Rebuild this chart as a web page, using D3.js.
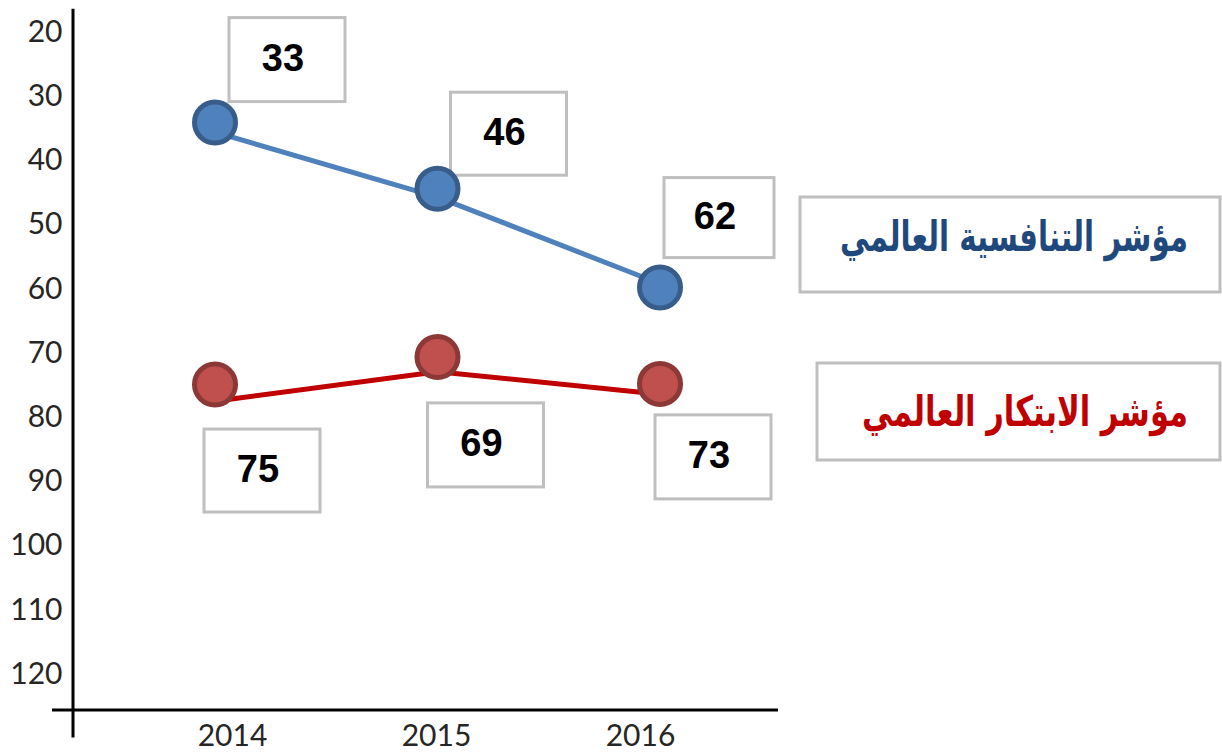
<!DOCTYPE html>
<html>
<head>
<meta charset="utf-8">
<script src="https://cdn.jsdelivr.net/npm/d3@7"></script>
<style>
	body { margin: 0; background: #fff; }
	svg { display: block; }
</style>
</head>
<body>
<svg id="chart" width="1222" height="752"></svg>
<script>
// values (rank axis, reversed)
const years = [2014, 2015, 2016];
const rankTicks = [20, 30, 40, 50, 60, 70, 80, 90, 100, 110, 120];

const competitivenessMarkers = [34.3, 44.6, 60.0];
const competitivenessLine = [35.8, 45.9, 59.4];
const competitivenessLabels = ["33", "46", "62"];

const innovationMarkers = [75.1, 70.8, 75.0];
const innovationLine = [77.7, 73.1, 76.6];
const innovationLabels = ["75", "69", "73"];

const seriesNames = ["مؤشر التنافسية العالمي", "مؤشر الابتكار العالمي"];

const svg = d3.select("#chart");

const y = d3.scaleLinear().domain([16.5, 130]).range([8.3, 737]);
const xPlot = d3.scalePoint().domain(years).range([215, 660]);
const xAxisScale = d3.scalePoint().domain(years).range([232, 640]);

const axisX = 72.5, axisY = 710;

// y axis
const yAxis = svg.append("g")
	.attr("transform", `translate(${axisX},0)`)
	.call(d3.axisLeft(y).tickValues(rankTicks).tickSize(0).tickSizeOuter(0).tickPadding(10));
yAxis.select(".domain").attr("stroke", "#000").attr("stroke-width", 3);
yAxis.selectAll("text")
	.attr("font-family", "Lato, 'Open Sans', sans-serif")
	.attr("font-size", 30)
	.attr("fill", "#262626")
	.attr("dy", "0.35em");

// x axis
svg.append("line")
	.attr("x1", 52).attr("x2", 778)
	.attr("y1", axisY).attr("y2", axisY)
	.attr("stroke", "#000").attr("stroke-width", 3);

const xAxis = svg.append("g")
	.attr("transform", `translate(0,${axisY})`)
	.call(d3.axisBottom(xAxisScale).tickSize(0).tickPadding(15));
xAxis.select(".domain").remove();
xAxis.selectAll("text")
	.attr("font-family", "Lato, 'Open Sans', sans-serif")
	.attr("font-size", 30)
	.attr("fill", "#262626");

// series
const series = [
	{ markers: competitivenessMarkers, line: competitivenessLine, labels: competitivenessLabels,
	  lineColor: "#4f81bd", fill: "#4f81bd", stroke: "#385d8a",
	  boxOffsets: [[72, -63], [71, -55], [59, -70]], boxSizes: [[116, 84], [116, 83], [110, 80]] },
	{ markers: innovationMarkers, line: innovationLine, labels: innovationLabels,
	  lineColor: "#c00000", fill: "#c0504d", stroke: "#8c3836",
	  boxOffsets: [[47, 86], [48, 88], [53, 73]], boxSizes: [[116, 83], [116, 84], [116, 84]] }
];

const lineGen = d3.line()
	.x((d, i) => xPlot(years[i]))
	.y(d => y(d));

series.forEach(s => {
	// value boxes
	s.markers.forEach((v, i) => {
		const cx = xPlot(years[i]) + s.boxOffsets[i][0];
		const cy = y(v) + s.boxOffsets[i][1];
		const [w, h] = s.boxSizes[i];
		svg.append("rect")
			.attr("x", cx - w / 2).attr("y", cy - h / 2)
			.attr("width", w).attr("height", h)
			.attr("fill", "#fff")
			.attr("stroke", "#bfbfbf").attr("stroke-width", 3);
		svg.append("text")
			.attr("x", cx - 4).attr("y", cy - 2)
			.attr("text-anchor", "middle")
			.attr("dominant-baseline", "central")
			.attr("font-family", "'Liberation Sans', Arial, sans-serif")
			.attr("font-weight", "bold")
			.attr("font-size", 38)
			.attr("fill", "#000")
			.text(s.labels[i]);
	});

	svg.append("path")
		.datum(s.line)
		.attr("d", lineGen)
		.attr("fill", "none")
		.attr("stroke", s.lineColor)
		.attr("stroke-width", 5);

	svg.selectAll(null)
		.data(s.markers)
		.join("circle")
		.attr("cx", (d, i) => xPlot(years[i]))
		.attr("cy", d => y(d))
		.attr("r", 20.5)
		.attr("fill", s.fill)
		.attr("stroke", s.stroke)
		.attr("stroke-width", 5);
});

// legend boxes
const legends = [
	{ name: seriesNames[0], color: "#1f497d", box: [800, 197, 420, 95], cx: 1014, base: 251, width: 348 },
	{ name: seriesNames[1], color: "#c00000", box: [817, 363, 403, 97], cx: 1025, base: 426, width: 326 }
];

legends.forEach(l => {
	svg.append("rect")
		.attr("x", l.box[0]).attr("y", l.box[1])
		.attr("width", l.box[2]).attr("height", l.box[3])
		.attr("fill", "#fff")
		.attr("stroke", "#bfbfbf").attr("stroke-width", 3);
	// text is drawn taller, then squeezed to the width seen in the picture
	const t = svg.append("text")
		.attr("x", 0).attr("y", 0)
		.attr("text-anchor", "middle")
		.attr("direction", "rtl")
		.attr("font-family", "'DejaVu Sans', sans-serif")
		.attr("font-weight", "bold")
		.attr("font-size", 42)
		.attr("fill", l.color)
		.text(l.name);
	const w = t.node().getComputedTextLength();
	const sx = w > 0 ? l.width / w : 1;
	t.attr("transform", `translate(${l.cx},${l.base}) scale(${sx},1)`);
});
</script>
</body>
</html>
